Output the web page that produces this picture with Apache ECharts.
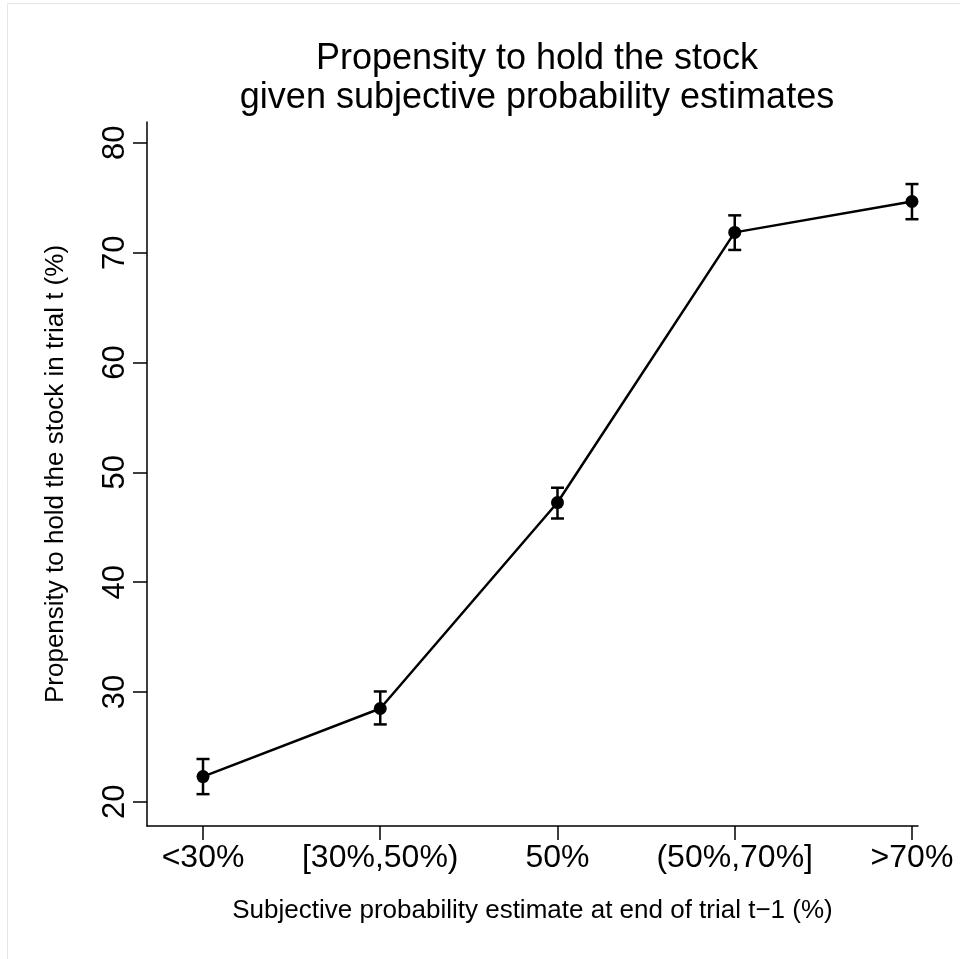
<!DOCTYPE html>
<html>
<head>
<meta charset="utf-8">
<script src="https://cdn.jsdelivr.net/npm/echarts@6/dist/echarts.min.js"></script>
<style>
html, body { margin: 0; padding: 0; background: #fff; }
#main { width: 960px; height: 959px; }
</style>
</head>
<body>
<div id="main"></div>
<script>
var categories = ['<30%', '[30%,50%)', '50%', '(50%,70%]', '>70%'];
var meanVals = [22.3, 28.5, 47.25, 71.85, 74.66];
var lowerVals = [20.7, 27.05, 45.8, 70.25, 73.05];
var upperVals = [23.9, 30.05, 48.6, 73.4, 76.25];
var yTicks = [20, 30, 40, 50, 60, 70, 80];
var xTicks = [0, 1, 2, 3, 4];

var font = 'Liberation Sans, Arial, Helvetica, sans-serif';
var myChart = echarts.init(document.getElementById('main'));

var lineData = [];
var barData = [];
for (var i = 0; i < categories.length; i++) {
	lineData.push([i, meanVals[i]]);
	barData.push([i, lowerVals[i], upperVals[i]]);
}

var option = {
	animation: false,
	backgroundColor: '#ffffff',
	textStyle: { fontFamily: font },
	title: {
		text: 'Propensity to hold the stock\ngiven subjective probability estimates',
		left: 532,
		top: 35,
		textAlign: 'center',
		textStyle: {
			fontFamily: font,
			fontWeight: 'normal',
			fontSize: 36,
			lineHeight: 39,
			color: '#000'
		}
	},
	graphic: [{
		type: 'rect',
		shape: { x: 7.5, y: 3.5, width: 1000, height: 1000 },
		style: { fill: 'none', stroke: '#e6e6e6', lineWidth: 1 },
		silent: true
	}],
	grid: { left: 147, right: 42, top: 122, bottom: 133 },
	xAxis: {
		type: 'value',
		min: -0.316,
		max: 4.034,
		name: 'Subjective probability estimate at end of trial t\u22121 (%)',
		nameLocation: 'middle',
		nameGap: 72,
		nameTextStyle: { fontFamily: font, fontSize: 26, color: '#000' },
		splitLine: { show: false },
		axisLine: { onZero: false, lineStyle: { color: '#000', width: 1.5 } },
		axisTick: { customValues: xTicks, length: 14, lineStyle: { color: '#000', width: 1.5 } },
		axisLabel: {
			customValues: xTicks,
			margin: 16,
			fontSize: 32,
			color: '#000',
			fontFamily: font,
			formatter: function (v) { return categories[Math.round(v)]; }
		}
	},
	yAxis: {
		type: 'value',
		min: 17.8,
		max: 81.9,
		name: 'Propensity to hold the stock in trial t (%)',
		nameLocation: 'middle',
		nameRotate: 90,
		nameGap: 78,
		nameTextStyle: { fontFamily: font, fontSize: 26, color: '#000' },
		splitLine: { show: false },
		axisLine: { show: true, onZero: false, lineStyle: { color: '#000', width: 1.5 } },
		axisTick: { show: true, customValues: yTicks, length: 14, lineStyle: { color: '#000', width: 1.5 } },
		axisLabel: {
			customValues: yTicks,
			rotate: 90,
			margin: 16,
			fontSize: 31,
			color: '#000',
			fontFamily: font
		}
	},
	series: [
		{
			type: 'line',
			data: lineData,
			symbol: 'circle',
			symbolSize: 13,
			lineStyle: { color: '#000', width: 2.5 },
			itemStyle: { color: '#000' },
			z: 3
		},
		{
			type: 'custom',
			data: barData,
			z: 4,
			renderItem: function (params, api) {
				var x = api.value(0);
				var lo = api.coord([x, api.value(1)]);
				var hi = api.coord([x, api.value(2)]);
				var cap = 6.5;
				var st = { stroke: '#000', lineWidth: 2.5 };
				return {
					type: 'group',
					children: [
						{ type: 'line', shape: { x1: lo[0], y1: lo[1], x2: hi[0], y2: hi[1] }, style: st },
						{ type: 'line', shape: { x1: lo[0] - cap, y1: lo[1], x2: lo[0] + cap, y2: lo[1] }, style: st },
						{ type: 'line', shape: { x1: hi[0] - cap, y1: hi[1], x2: hi[0] + cap, y2: hi[1] }, style: st }
					]
				};
			}
		}
	]
};
myChart.setOption(option);
</script>
</body>
</html>
